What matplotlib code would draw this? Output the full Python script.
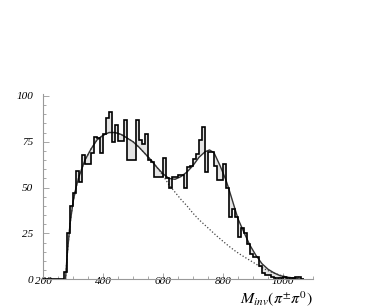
import numpy as np
import matplotlib
matplotlib.use("Agg")
import matplotlib.pyplot as plt
from matplotlib.ticker import MultipleLocator

# ---- data ----
bin_lo = 200
bin_width = 10
counts = [
    0, 0, 0, 0, 0, 0, 0,            # 200-270
    4, 25, 40, 47, 59, 53, 67.5,    # 270-340
    63, 63, 69, 77.5, 77, 68.6,     # 340-400
    79, 87.7, 91, 75, 84, 75.5,     # 400-460
    75.5, 86.6, 65, 65, 65, 86.6,   # 460-520
    76, 74, 79.4, 65, 64, 56,       # 520-580
    56, 56, 66, 55, 49.6, 56,       # 580-640
    56, 57, 57, 49.6, 61, 62,       # 640-700
    65.7, 68.5, 76, 83, 58.5, 69.4, # 700-760
    69.4, 62, 54, 54, 63, 49.5,     # 760-820
    34, 38.5, 34, 23, 28, 25,       # 820-880
    19.5, 14, 12, 12, 7, 3.3,       # 880-940
    2.4, 2.4, 1.5, 0.6, 0.6, 0.6,   # 940-1000
    1.5, 0.6, 0.6, 0.6, 1, 1, 0,    # 1000-1070
]

fit_mass = [275, 280, 290, 300, 310, 320, 340, 360, 380, 400, 420, 440, 460,
            480, 500, 520, 540, 560, 580, 600, 620, 640, 660, 680, 700, 720,
            740, 755, 770, 790, 810, 820, 850, 870, 890, 910, 930, 950, 970,
            990, 1010, 1030, 1050]
fit_total = [0, 12, 30, 42, 50, 56, 65, 71, 76, 78.5, 80, 80, 79,
             77, 75, 72, 68.5, 65, 61, 57.5, 55, 54.5, 56, 58.5, 62, 66.5,
             69.5, 70.5, 69, 62, 54, 49, 33, 25.5, 18.5, 13, 8.5, 5.5, 3.5,
             2.0, 1.3, 0.7, 0.4]

bg_mass = [275, 280, 290, 300, 310, 320, 340, 360, 380, 400, 420, 440, 460,
           480, 500, 520, 540, 560, 580, 600, 620, 640, 660, 680, 700, 720,
           740, 760, 780, 800, 820, 840, 860, 880, 900, 920, 940, 960, 980,
           1000, 1020, 1040, 1060]
bg_values = [0, 12, 30, 42, 50, 56, 65, 71, 76, 78.5, 80, 80, 79,
             77, 75, 72, 68.5, 65, 61, 56.5, 51.5, 47.5, 43.5, 40, 36, 32.5,
             29.5, 26.5, 23.5, 20.7, 18, 15.5, 13.3, 11.3, 9.3, 7.3, 5.5, 4,
             2.8, 1.8, 1.1, 0.6, 0.3]

x_ticks = [200, 400, 600, 800, 1000]
y_ticks = [0, 25, 50, 75, 100]

# ---- figure ----
fig = plt.figure(figsize=(3.76, 3.07), dpi=100)
ax = fig.add_axes([43/376, 1 - 279.3/307, 270/376, (279.3 - 94)/307])

counts = np.array(counts, dtype=float)
edges = bin_lo + bin_width * np.arange(len(counts) + 1)

# light fill between histogram and fit
xs = np.repeat(edges, 2)[1:-1]
ys = np.repeat(counts, 2)
curve = np.interp(xs, fit_mass, fit_total, left=0, right=0)
ax.fill_between(xs, ys, curve, color='#e4e4e4', lw=0, zorder=1)

ax.plot(bg_mass, bg_values, color='#444444', lw=0.9, ls=(0, (1, 1.6)), zorder=2)
ax.plot(fit_mass, fit_total, color='#333333', lw=1.0, zorder=3)
ax.stairs(counts, edges, color='black', lw=1.2, zorder=4)

ax.set_xlim(200, 1100)
ax.set_ylim(0, 101)
for s in ['top', 'right']:
    ax.spines[s].set_visible(False)
for s in ['left', 'bottom']:
    ax.spines[s].set_color('#999999')
    ax.spines[s].set_linewidth(0.8)

ax.set_xticks(x_ticks)
ax.set_yticks(y_ticks)
ax.xaxis.set_minor_locator(MultipleLocator(50))
ax.yaxis.set_minor_locator(MultipleLocator(5))
ax.tick_params(which='both', direction='in', color='#999999', width=0.6)
ax.tick_params(which='major', length=4)
ax.tick_params(which='minor', length=2)
ax.tick_params(axis='y', which='major', pad=7)
ax.tick_params(axis='x', which='major', pad=-2)

tick_font = dict(family='Liberation Serif', style='italic', size=8)
ax.set_xticklabels([str(v) for v in x_ticks], **tick_font)
ax.set_yticklabels([str(v) for v in y_ticks], **tick_font)

plt.rcParams['mathtext.fontset'] = 'stix'
fig.text(313/376, 1 - 303/307, r'$M_{inv}(\pi^{\pm}\pi^{0})$', ha='right',
         va='baseline', fontsize=11.5)

fig.savefig('out.png', dpi=100)
